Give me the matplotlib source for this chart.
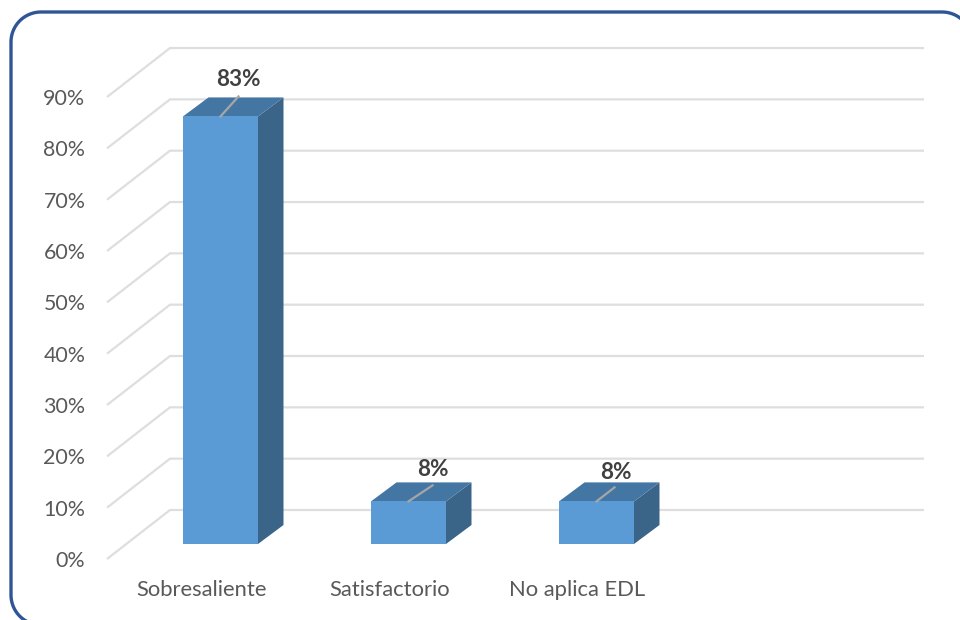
import numpy as np
import matplotlib
matplotlib.use('AGG')
import matplotlib.pyplot as plt
from matplotlib.patches import Polygon
from matplotlib.transforms import IdentityTransform

categories = ['Sobresaliente', 'Satisfactorio', 'No aplica EDL']
values = [83.3, 8.3, 8.3]
labels = ['83%', '8%', '8%']
grid_ticks = [0, 10, 20, 30, 40, 50, 60, 70, 80, 90]
tick_labels = ['0%', '10%', '20%', '30%', '40%', '50%', '60%', '70%', '80%', '90%']

plt.rcParams['font.family'] = ['Lato', 'DejaVu Sans']

W, H = 960, 620
PX_X = 188.0    # pixels per category
PX_Y = 5.133    # pixels per percent
X0, Y0 = 220.5, 510

fig = plt.figure(figsize=(9.6, 6.2), dpi=100, facecolor='white')
ax = fig.add_axes([0, 0, 1, 1])
ax.set_xlim(-X0 / PX_X, (W - X0) / PX_X)
ax.set_ylim((Y0 - H) / PX_Y, Y0 / PX_Y)
ax.axis('off')

def dx(px):
    return px / PX_X

def dy(px):
    return px / PX_Y

# outer rounded frame, runs off the right and bottom of the picture
left, right, top_px, bottom_px, rad = 11, 972, 12, 625, 30
theta = np.linspace(0, np.pi / 2, 30)
fx = np.concatenate([left + rad * (1 - np.sin(theta)),
                     left + rad * (1 - np.cos(theta)),
                     right - rad * (1 - np.sin(theta))])
fy = np.concatenate([bottom_px - rad * (1 - np.cos(theta)),
                     top_px + rad * (1 - np.sin(theta)),
                     top_px + rad * (1 - np.cos(theta))])
ax.plot(fx, H - fy, transform=IdentityTransform(), color='#2f5597', lw=2.4, clip_on=False)

# gridlines on back wall and side wall
wall_x = dx(170 - X0)
right_x = dx(924 - X0)
side_dx, side_dy = dx(-63), dy(-49)
for t, lab in zip(grid_ticks, tick_labels):
    ax.plot([wall_x + side_dx, wall_x, right_x], [t + side_dy, t, t],
            color='#dedede', lw=1.6, solid_capstyle='butt', solid_joinstyle='miter', zorder=1)
    ax.text(wall_x + dx(-84.5), t + side_dy + dy(-2), lab, ha='right', va='center',
            fontsize=15.4, color='#595959')

# 3d columns
half = dx(37.5)
depth_x, depth_y = dx(25.5), dy(19)
base = dy(-34)
label_pos = [(18, 37), (24, 32), (19, 29)]
leader = [(18, 20), (24, 16), (18, 14)]
for i, (cat, v, lab) in enumerate(zip(categories, values, labels)):
    top = base + v
    l, r = i - half, i + half
    ax.add_patch(Polygon([(r, base), (r + depth_x, base + depth_y), (r + depth_x, top + depth_y), (r, top)],
                         facecolor='#3a6488', edgecolor='none', zorder=3))
    ax.add_patch(Polygon([(l, top), (r, top), (r + depth_x, top + depth_y), (l + depth_x, top + depth_y)],
                         facecolor='#4476a4', edgecolor='none', zorder=3))
    ax.fill_between([l, r], [base, base], [top, top], color='#5b9bd5', lw=0, zorder=4)
    # leader line from the column to its label
    ax.plot([i, i + dx(leader[i][0])], [top, top + dy(leader[i][1])],
            color='#a6a6a6', lw=1.6, zorder=5)
    ax.text(i + dx(label_pos[i][0]), top + dy(label_pos[i][1]), lab,
            ha='center', va='center', fontsize=16.2, fontweight='bold', color='#404040', zorder=6)
    ax.text(i + dx(-19), dy(Y0 - 590), cat, ha='center', va='center',
            fontsize=15.8, color='#595959')

fig.savefig('out.png', dpi=100)
